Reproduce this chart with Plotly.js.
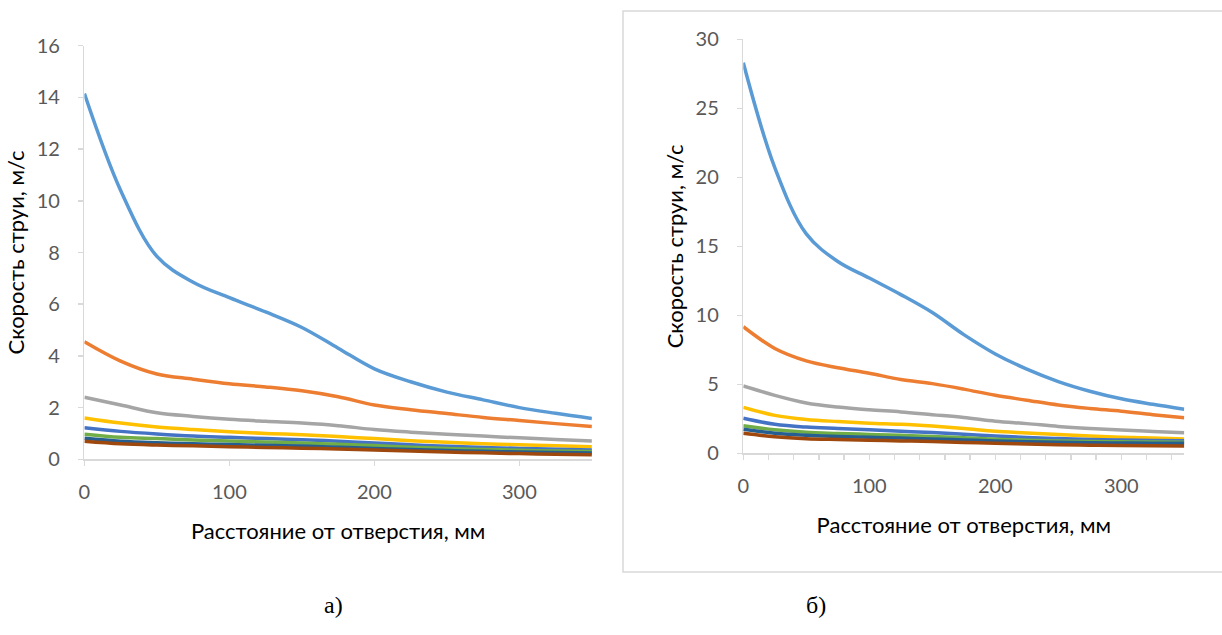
<!DOCTYPE html>
<html>
<head>
<meta charset="utf-8">
<script src="https://cdn.plot.ly/plotly-3.0.1.min.js"></script>
<style>html,body{margin:0;padding:0;background:#fff;}#chart{width:1222px;height:635px;}</style>
</head>
<body>
<div id="chart"></div>
<script>
// Distance from the opening, mm
const xA = [0, 25, 50, 75, 100, 125, 150, 175, 200, 225, 250, 275, 300, 325, 350];
const xB = [0, 25, 50, 75, 100, 125, 150, 175, 200, 225, 250, 275, 300, 325, 350];

// Chart а) jet velocity, m/s
const a1 = [14.15, 10.4, 7.85, 6.85, 6.25, 5.7, 5.1, 4.3, 3.5, 3.0, 2.6, 2.3, 2.0, 1.78, 1.58];
const a2 = [4.55, 3.8, 3.3, 3.1, 2.92, 2.8, 2.65, 2.42, 2.1, 1.92, 1.77, 1.62, 1.5, 1.38, 1.27];
const a3 = [2.4, 2.1, 1.8, 1.66, 1.55, 1.47, 1.4, 1.3, 1.15, 1.05, 0.97, 0.9, 0.83, 0.77, 0.71];
const a4 = [1.6, 1.4, 1.25, 1.15, 1.07, 1.0, 0.95, 0.88, 0.8, 0.72, 0.66, 0.6, 0.56, 0.52, 0.49];
const a5 = [1.22, 1.08, 0.98, 0.9, 0.85, 0.8, 0.76, 0.7, 0.63, 0.56, 0.5, 0.46, 0.42, 0.39, 0.36];
const a6 = [0.97, 0.85, 0.8, 0.75, 0.71, 0.67, 0.63, 0.58, 0.53, 0.47, 0.42, 0.38, 0.35, 0.32, 0.3];
const a7 = [0.81, 0.7, 0.64, 0.6, 0.57, 0.54, 0.51, 0.47, 0.42, 0.38, 0.34, 0.31, 0.28, 0.26, 0.24];
const a8 = [0.7, 0.6, 0.55, 0.52, 0.49, 0.46, 0.43, 0.4, 0.36, 0.32, 0.28, 0.25, 0.22, 0.2, 0.18];

// Chart б) jet velocity, m/s
const b1 = [28.3, 20.7, 15.9, 13.9, 12.7, 11.5, 10.2, 8.6, 7.2, 6.1, 5.2, 4.5, 3.95, 3.55, 3.19];
const b2 = [9.17, 7.6, 6.7, 6.2, 5.8, 5.35, 5.05, 4.65, 4.2, 3.85, 3.5, 3.25, 3.05, 2.8, 2.58];
const b3 = [4.88, 4.2, 3.65, 3.35, 3.15, 3.0, 2.8, 2.6, 2.33, 2.15, 1.95, 1.8, 1.68, 1.58, 1.49];
const b4 = [3.33, 2.75, 2.45, 2.3, 2.18, 2.1, 1.97, 1.8, 1.6, 1.48, 1.36, 1.25, 1.17, 1.1, 1.04];
const b5 = [2.54, 2.1, 1.9, 1.8, 1.7, 1.6, 1.5, 1.38, 1.25, 1.15, 1.07, 1.0, 0.96, 0.93, 0.91];
const b6 = [2.0, 1.7, 1.52, 1.44, 1.37, 1.3, 1.22, 1.12, 1.02, 0.95, 0.89, 0.85, 0.83, 0.81, 0.8];
const b7 = [1.74, 1.45, 1.3, 1.22, 1.16, 1.1, 1.04, 0.97, 0.9, 0.84, 0.8, 0.77, 0.75, 0.73, 0.72];
const b8 = [1.45, 1.2, 1.06, 1.0, 0.95, 0.9, 0.85, 0.79, 0.72, 0.67, 0.62, 0.59, 0.56, 0.54, 0.53];

const colors = ['#5B9BD5', '#ED7D31', '#A5A5A5', '#FFC000', '#4472C4', '#70AD47', '#255E91', '#9E480E'];
const seriesA = [a1, a2, a3, a4, a5, a6, a7, a8];
const seriesB = [b1, b2, b3, b4, b5, b6, b7, b8];

const traces = [];
seriesA.forEach((s, i) => traces.push({
  x: xA, y: s, type: 'scatter', mode: 'lines', xaxis: 'x', yaxis: 'y', cliponaxis: false,
  line: {color: colors[i], width: 3.5, shape: 'spline', smoothing: 1}, showlegend: false, hoverinfo: 'skip'
}));
seriesB.forEach((s, i) => traces.push({
  x: xB, y: s, type: 'scatter', mode: 'lines', xaxis: 'x2', yaxis: 'y2', cliponaxis: false,
  line: {color: colors[i], width: 3.5, shape: 'spline', smoothing: 1}, showlegend: false, hoverinfo: 'skip'
}));

const tickFont = {family: 'Lato, Noto Sans, sans-serif', size: 20, color: '#595959'};
const titleFont = {family: 'Lato, Noto Sans, sans-serif', size: 22, color: '#000000'};
const axisCommon = {
  showgrid: false, zeroline: false, showline: true, linecolor: '#D9D9D9', linewidth: 1.5,
  ticks: 'outside', tickcolor: '#D9D9D9', ticklen: 5, tickwidth: 1.5, tickfont: tickFont
};

const W = 1222, H = 635;
const layout = {
  width: W, height: H,
  margin: {l: 0, r: 0, t: 0, b: 0},
  paper_bgcolor: '#ffffff', plot_bgcolor: '#ffffff',
  font: {family: 'Lato, Noto Sans, sans-serif'},
  xaxis: Object.assign({}, axisCommon, {
    domain: [84.4/W, 591.9/W], range: [0, 350], dtick: 100, tick0: 0, anchor: 'y',
    ticklabelstandoff: 9,
    title: {text: 'Расстояние от отверстия, мм', font: titleFont, standoff: 22}
  }),
  yaxis: Object.assign({}, axisCommon, {
    domain: [1 - 459.3/H, 1 - 45.7/H], range: [0, 16], dtick: 2, anchor: 'x',
    ticklabelstandoff: 14,
    title: {text: 'Скорость струи, м/с', font: titleFont, standoff: 6}
  }),
  xaxis2: Object.assign({}, axisCommon, {
    domain: [743.3/W, 1184.3/W], range: [0, 350], dtick: 100, tick0: 0, anchor: 'y2',
    ticklabelstandoff: 9,
    minor: {dtick: 20, ticks: 'outside', ticklen: 5, tickcolor: '#D9D9D9', tickwidth: 1.5, showgrid: false},
    title: {text: 'Расстояние от отверстия, мм', font: titleFont, standoff: 22}
  }),
  yaxis2: Object.assign({}, axisCommon, {
    domain: [1 - 453.3/H, 1 - 39.3/H], range: [0, 30], dtick: 5, anchor: 'x2',
    ticklabelstandoff: 14,
    title: {text: 'Скорость струи, м/с', font: titleFont, standoff: 6}
  }),
  shapes: [{
    type: 'rect', xref: 'paper', yref: 'paper',
    x0: 623/W, x1: 1.01, y0: 1 - 572/H, y1: 1 - 11/H,
    line: {color: '#D9D9D9', width: 1.5}, fillcolor: 'rgba(0,0,0,0)', layer: 'below'
  }],
  annotations: [
    {text: 'а)', xref: 'paper', yref: 'paper', x: 322/W, y: 1 - 620/H, showarrow: false,
     font: {family: 'Liberation Serif, serif', size: 24, color: '#000'}},
    {text: 'б)', xref: 'paper', yref: 'paper', x: 828/W, y: 1 - 620/H, showarrow: false,
     font: {family: 'Liberation Serif, serif', size: 24, color: '#000'}}
  ]
};

Plotly.newPlot('chart', traces, layout, {staticPlot: true, displayModeBar: false});
</script>
</body>
</html>
